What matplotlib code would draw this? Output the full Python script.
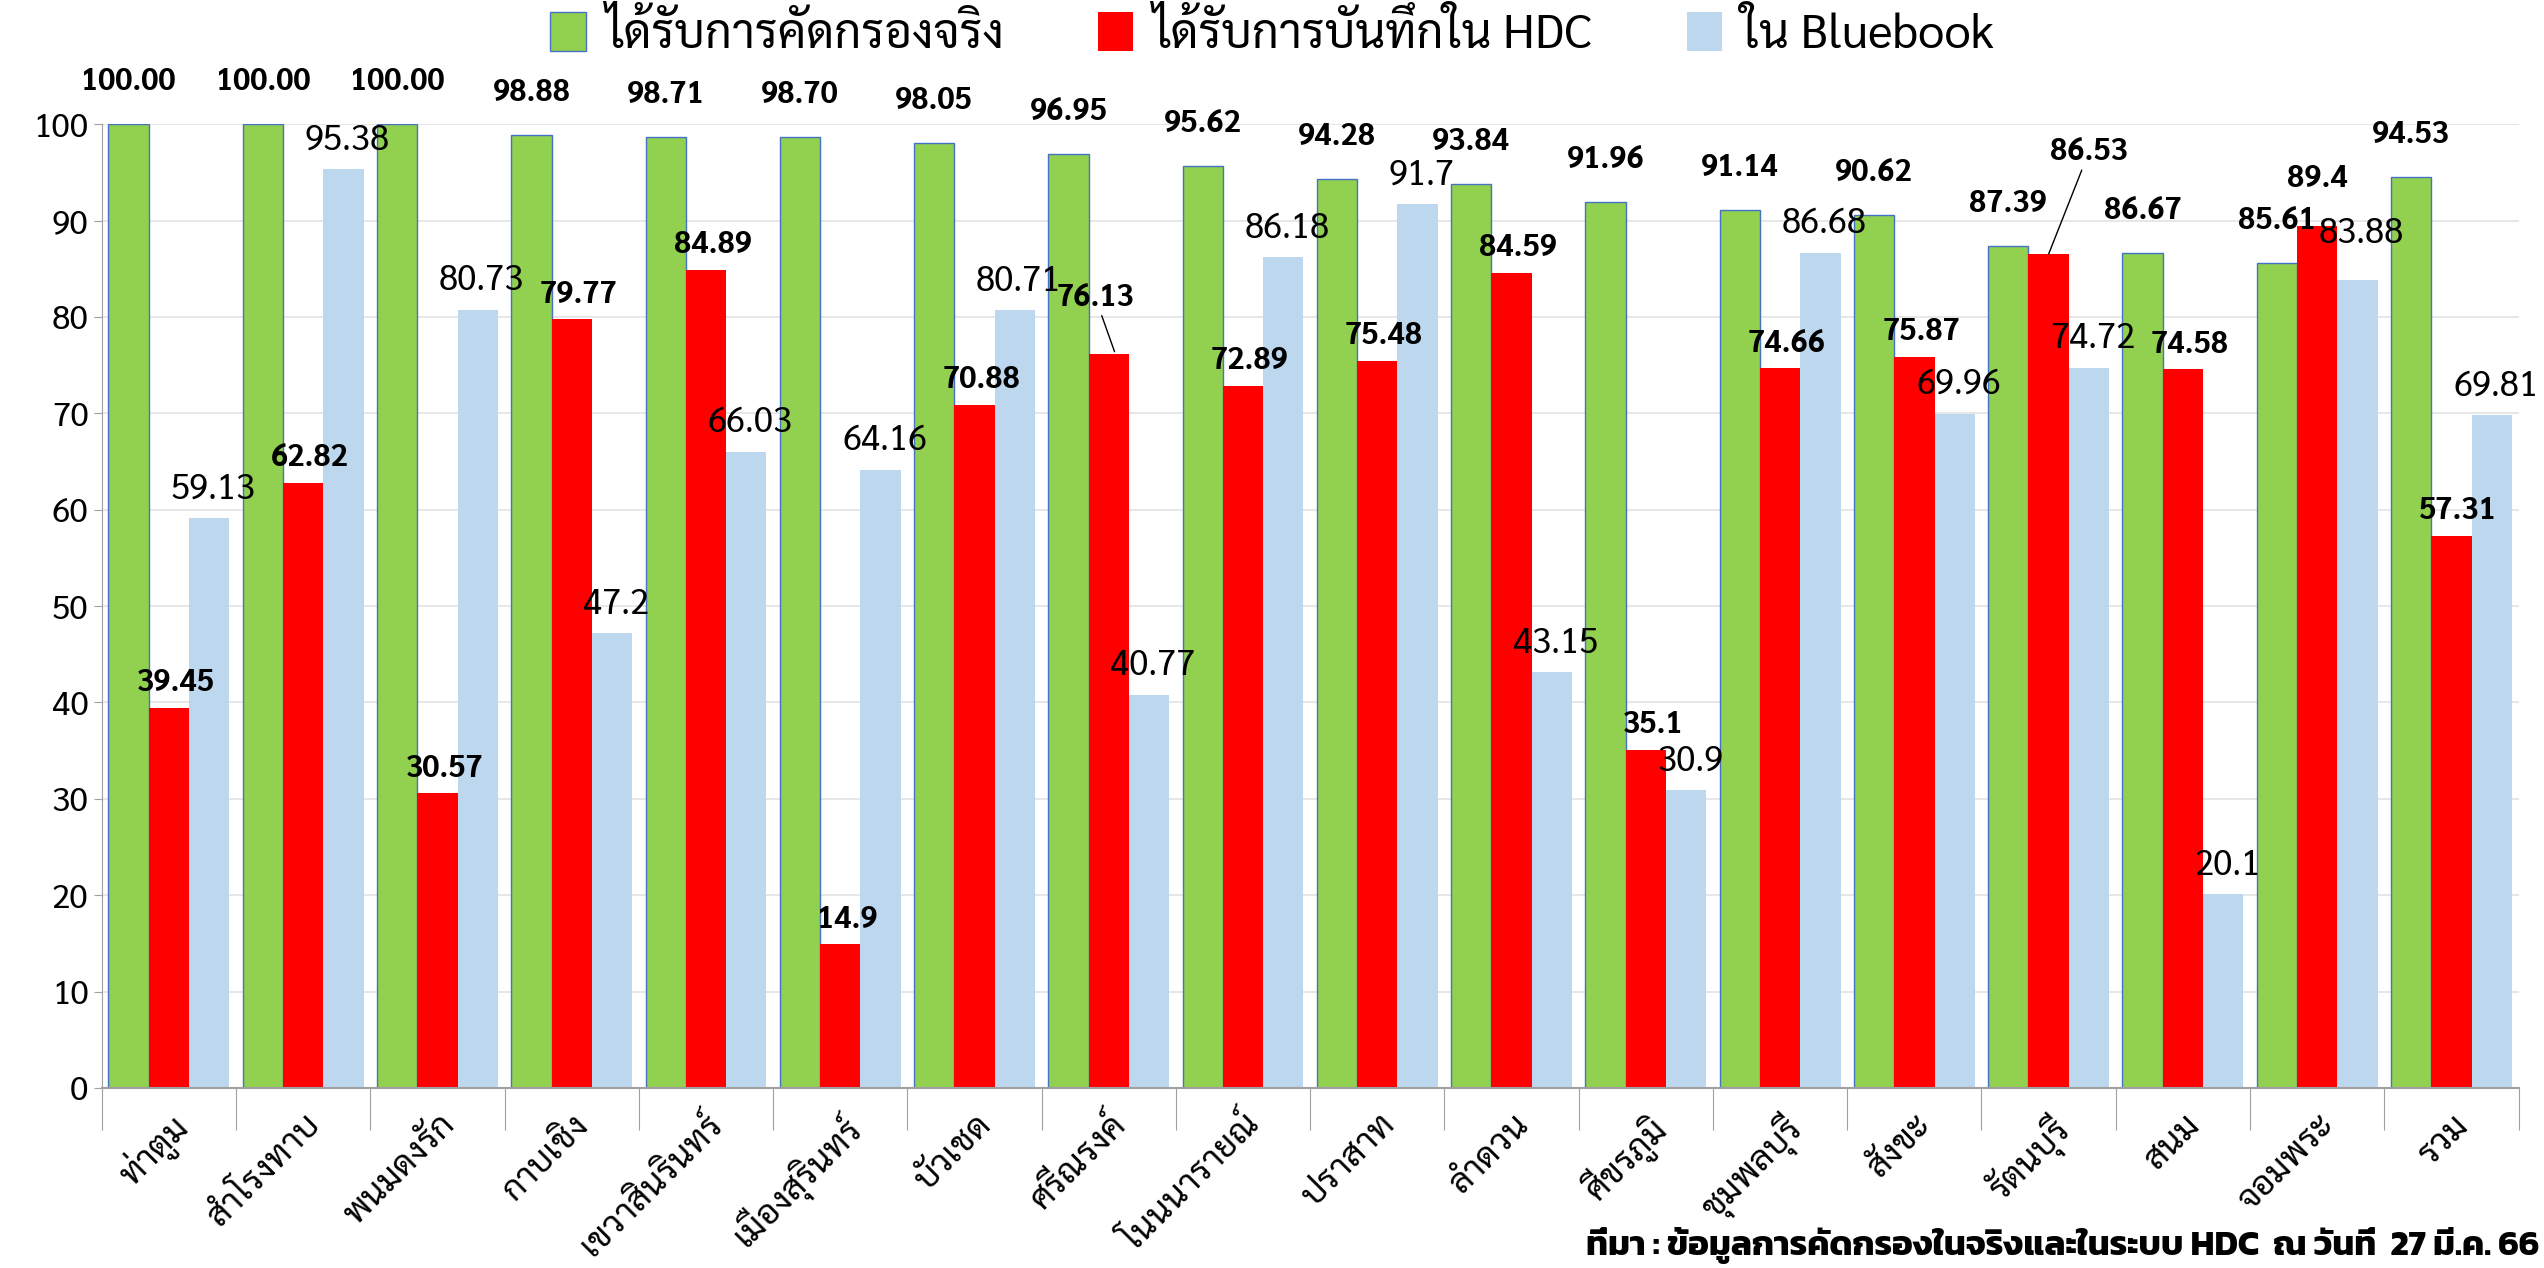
import matplotlib
matplotlib.use('Agg')
import matplotlib.pyplot as plt
import numpy as np

districts = ['ท่าตูม', 'สำโรงทาบ', 'พนมดงรัก', 'กาบเชิง', 'เขวาสินรินทร์', 'เมืองสุรินทร์',
             'บัวเชด', 'ศรีณรงค์', 'โนนนารายณ์', 'ปราสาท', 'ลำดวน', 'ศีขรภูมิ',
             'ชุมพลบุรี', 'สังขะ', 'รัตนบุรี', 'สนม', 'จอมพระ', 'รวม']
screened = [100.00, 100.00, 100.00, 98.88, 98.71, 98.70, 98.05, 96.95, 95.62,
            94.28, 93.84, 91.96, 91.14, 90.62, 87.39, 86.67, 85.61, 94.53]
in_hdc = [39.45, 62.82, 30.57, 79.77, 84.89, 14.9, 70.88, 76.13, 72.89,
          75.48, 84.59, 35.1, 74.66, 75.87, 86.53, 74.58, 89.4, 57.31]
bluebook = [59.13, 95.38, 80.73, 47.2, 66.03, 64.16, 80.71, 40.77, 86.18,
            91.7, 43.15, 30.9, 86.68, 69.96, 74.72, 20.1, 83.88, 69.81]
series_names = ['ได้รับการคัดกรองจริง', 'ได้รับการบันทึกใน HDC', 'ใน Bluebook']
source_note = 'ที่มา : ข้อมูลการคัดกรองในจริงและในระบบ HDC  ณ วันที่  27 มี.ค. 66'

thai = ['Sarabun', 'DejaVu Sans']
plt.rcParams['font.family'] = thai

fig, ax = plt.subplots(figsize=(25.44, 12.68), dpi=100)
fig.subplots_adjust(left=0.04, right=0.99, top=0.902, bottom=0.142)

x = np.arange(len(districts))
w = 0.3
ax.bar(x - w, screened, w, color='#92D050', edgecolor='#4472C4', linewidth=1, label=series_names[0])
ax.bar(x, in_hdc, w, color='#FF0000', label=series_names[1])
ax.bar(x + w, bluebook, w, color='#BDD7EE', label=series_names[2])

# value labels; a few were dragged away from the bar in the original
for i in range(len(districts)):
    ax.text(x[i] - w, screened[i] + 2.8, f'{screened[i]:.2f}', ha='center', va='bottom',
            fontsize=22, fontweight='bold')

    name = districts[i]
    if name == 'รัตนบุรี':
        ax.annotate(f'{in_hdc[i]:g}', xy=(x[i], in_hdc[i]), xytext=(x[i] + 0.3, in_hdc[i] + 9),
                    ha='center', va='bottom', fontsize=22, fontweight='bold',
                    arrowprops=dict(arrowstyle='-', color='black', lw=1, shrinkA=0, shrinkB=0))
    elif name == 'ศรีณรงค์':
        ax.annotate(f'{in_hdc[i]:g}', xy=(x[i] + 0.05, in_hdc[i]), xytext=(x[i] - 0.1, in_hdc[i] + 4.3),
                    ha='center', va='bottom', fontsize=22, fontweight='bold',
                    arrowprops=dict(arrowstyle='-', color='black', lw=1, shrinkA=0, shrinkB=2))
    elif name == 'จอมพระ':
        ax.text(x[i], in_hdc[i] + 3.4, f'{in_hdc[i]:g}', ha='center', va='bottom',
                fontsize=22, fontweight='bold')
    else:
        ax.text(x[i] + 0.05, in_hdc[i] + 1.0, f'{in_hdc[i]:g}', ha='center', va='bottom',
                fontsize=22, fontweight='bold')

    dy = 3.0 if name == 'จอมพระ' else 1.2
    ax.text(x[i] + w + 0.03, bluebook[i] + dy, f'{bluebook[i]:g}', ha='center', va='bottom',
            fontsize=25)

ax.set_ylim(0, 100)
ax.set_xlim(-0.5, len(districts) - 0.5)
ax.set_yticks(range(0, 101, 10))
ax.tick_params(axis='y', labelsize=24, length=6, color='#A0A0A0')
ax.set_xticks(np.arange(-0.5, len(districts), 1), minor=False)
ax.set_xticklabels([])
ax.set_xticks(x, minor=True)
ax.set_xticklabels(districts, minor=True, rotation=45, ha='right', rotation_mode='anchor', fontsize=25)
ax.tick_params(axis='x', which='minor', length=0, pad=14)
ax.tick_params(axis='x', which='major', length=30, color='#A0A0A0')
ax.grid(axis='y', color='#E3E3E3', linewidth=1.2)
ax.set_axisbelow(True)
for s in ['top', 'right']:
    ax.spines[s].set_visible(False)
ax.spines['bottom'].set_color('#A0A0A0')
ax.spines['bottom'].set_linewidth(1.5)
ax.spines['left'].set_color('#A0A0A0')

fig.legend(loc='center', bbox_to_anchor=(0.5, 0.972), ncol=3, frameon=False,
           fontsize=34, handlelength=0.75, handleheight=0.9, handletextpad=0.4, columnspacing=2.0)
fig.text(0.998, 0.003, source_note, ha='right', va='bottom', fontsize=25, fontweight='bold',
         family=['Kanit', 'DejaVu Sans'])

fig.savefig('out.png')
